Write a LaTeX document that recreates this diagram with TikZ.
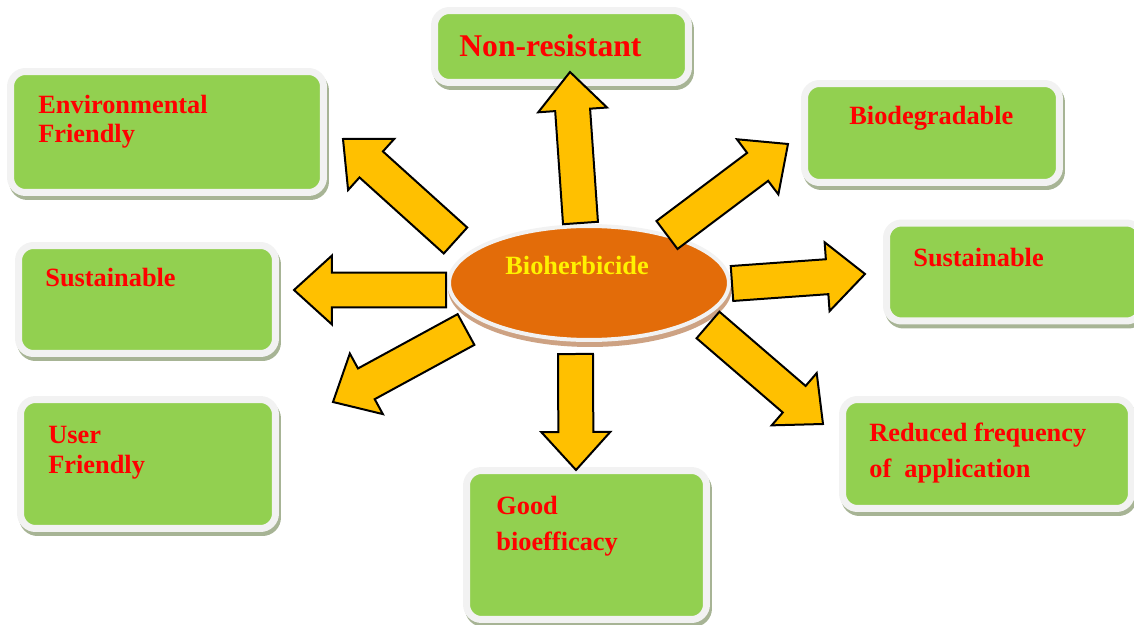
\documentclass[tikz,border=0pt]{standalone}
\usepackage{fontspec}
\setmainfont{Liberation Serif}
\usetikzlibrary{calc,shapes.geometric,shadows}

\definecolor{leafgreen}{HTML}{92D050}
\definecolor{ringgrey}{HTML}{F2F2F2}
\definecolor{shadegreen}{HTML}{A7B495}
\definecolor{bioorange}{HTML}{E36C09}
\definecolor{biotan}{HTML}{CDA283}
\definecolor{arrowgold}{HTML}{FFC000}

% block arrow from tail #1 to tip #2
\newcommand{\fatarrow}[2]{%
  \coordinate (hb) at ($(#2)!0.76cm!(#1)$);
  \draw[fatarrow] ($(#1)!0.35cm!90:(#2)$) -- ($(hb)!0.35cm!90:(#2)$)
    -- ($(hb)!0.69cm!90:(#2)$) -- (#2) -- ($(hb)!0.69cm!-90:(#2)$)
    -- ($(hb)!0.35cm!-90:(#2)$) -- ($(#1)!0.35cm!-90:(#2)$) -- cycle;
}

\begin{document}
\begin{tikzpicture}[x=0.02cm, y=-0.02cm,
    box/.style={rectangle, rounded corners=0.3cm, fill=leafgreen, draw=ringgrey,
      line width=0.14cm, inner sep=0pt,
      drop shadow={shadow xshift=0.04cm, shadow yshift=-0.08cm, fill=shadegreen,
        draw=shadegreen, line width=0.14cm, opacity=1}},
    boxtext/.style={anchor=base west, inner sep=0pt, text=red, align=left,
      font=\fontsize{15}{17}\selectfont\bfseries},
    fatarrow/.style={fill=arrowgold, draw=black, line width=0.04cm}]
        \useasboundingbox (0,0) rectangle (1134,625);
        % ==== BOXES ====
        \node[box, minimum width=5.08cm, minimum height=1.44cm] (nonres) at (561.5,46.5) {};
        \node[box, minimum width=6.26cm, minimum height=2.42cm] (envfr) at (167,132) {};
        \node[box, minimum width=5.10cm, minimum height=1.98cm] (biodeg) at (932,133) {};
        \node[box, minimum width=5.10cm, minimum height=1.96cm] (sustr) at (1014,272) {};
        \node[box, minimum width=5.14cm, minimum height=2.16cm] (sustl) at (147,299.5) {};
        \node[box, minimum width=5.10cm, minimum height=2.58cm] (userfr) at (148,464) {};
        \node[box, minimum width=4.80cm, minimum height=2.98cm] (goodbio) at (586.5,545) {};
        \node[box, minimum width=5.78cm, minimum height=2.18cm] (redfreq) at (987,454) {};
        % ==== BOX TEXTS (base = last line) ====
        \node[boxtext, font=\fontsize{18}{20}\selectfont\bfseries] (nonres-t) at (459,57) {Non-resistant};
        \node[boxtext] (envfr-t) at (38,143) {Environmental\\Friendly};
        \node[boxtext] (biodeg-t) at (849,125) {Biodegradable};
        \node[boxtext] (sustr-t) at (913,267) {Sustainable};
        \node[boxtext] (sustl-t) at (45,287) {Sustainable};
        \node[boxtext] (userfr-t) at (48,473) {User\\Friendly};
        \node[boxtext, font=\fontsize{15}{20}\selectfont\bfseries] (goodbio-t) at (496,550) {Good\\bioefficacy};
        \node[boxtext, font=\fontsize{15}{20}\selectfont\bfseries] (redfreq-t) at (869,477) {Reduced frequency\\of\ \ application};
        % ==== CENTRE ====
        \node[ellipse, minimum width=5.6cm, minimum height=2.28cm, inner sep=0pt,
            fill=bioorange, draw=ringgrey, line width=0.08cm,
            drop shadow={shadow xshift=0.02cm, shadow yshift=-0.1cm, fill=biotan,
              draw=biotan, line width=0.08cm, opacity=1}] (bio) at (589,283) {};
        \node[boxtext, text=yellow] (bio-t) at (505,275) {Bioherbicide};
        % ==== ARROWS ====
        \coordinate (up-s) at (580.5,223);  \coordinate (up-e) at (570,72);
        \coordinate (ul-s) at (455.5,240.5); \coordinate (ul-e) at (343,139);
        \coordinate (l-s) at (446,290);     \coordinate (l-e) at (294,290);
        \coordinate (dl-s) at (466,329.5);  \coordinate (dl-e) at (333,402);
        \coordinate (dn-s) at (575.5,354);  \coordinate (dn-e) at (576,470);
        \coordinate (dr-s) at (708,325);    \coordinate (dr-e) at (823,424);
        \coordinate (r-s) at (732,283.5);   \coordinate (r-e) at (865,274);
        \coordinate (ur-s) at (667,235);    \coordinate (ur-e) at (788,144);
        \fatarrow{up-s}{up-e}
        \fatarrow{ul-s}{ul-e}
        \fatarrow{l-s}{l-e}
        \fatarrow{dl-s}{dl-e}
        \fatarrow{dn-s}{dn-e}
        \fatarrow{dr-s}{dr-e}
        \fatarrow{r-s}{r-e}
        \fatarrow{ur-s}{ur-e}
\end{tikzpicture}
\end{document}
